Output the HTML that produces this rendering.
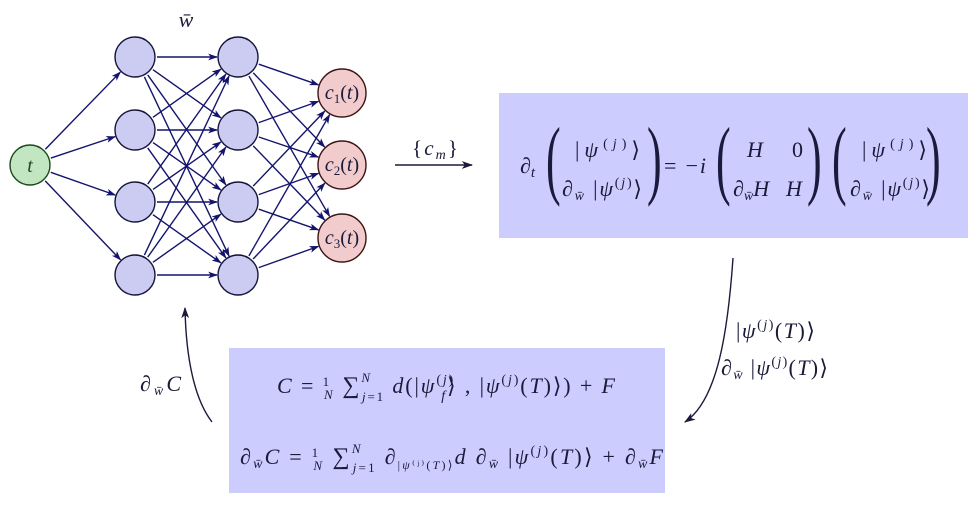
<!DOCTYPE html>
<html><head><meta charset="utf-8">
<style>
html,body{margin:0;padding:0;background:#fff;}
svg{display:block;}
text{font-family:"Liberation Serif","DejaVu Serif",serif;fill:#1a1a3a;}
.i{font-style:italic;}
</style></head>
<body>
<svg id="s" width="978" height="506" viewBox="0 0 978 506" xmlns="http://www.w3.org/2000/svg">
<defs>
<marker id="a" viewBox="0 0 10 10" refX="9" refY="5" markerWidth="7" markerHeight="7" orient="auto-start-reverse">
<path d="M0,1.5 L10,5 L0,8.5 L2.5,5 Z" fill="#14146e"/>
</marker>
<marker id="b" viewBox="0 0 10 10" refX="9" refY="5" markerWidth="8" markerHeight="8" orient="auto">
<path d="M0,1.5 L10,5 L0,8.5 L2.5,5 Z" fill="#1a1a3a"/>
</marker>
</defs>
<g id="edges" stroke="#14146e" stroke-width="1.4" fill="none"></g>
<g id="nodes"></g>
<text x="186" y="27" class="i" font-size="22" text-anchor="middle">w̄</text>

<!-- {c_m} arrow -->
<line x1="395" y1="165" x2="472" y2="165" stroke="#1a1a3a" stroke-width="1.4" marker-end="url(#b)"/>
<text x="412" y="155" font-size="21" textLength="46" lengthAdjust="spacing">{<tspan class="i">c</tspan><tspan class="i" font-size="14" dy="4">m</tspan><tspan dy="-4">}</tspan></text>

<!-- top box -->
<rect x="499" y="93" width="469" height="145" fill="#ccccff"/>
<g font-size="22">
<text x="520" y="173" class="i">∂<tspan font-size="15" dy="4">t</tspan></text>
<text transform="translate(546,188) scale(0.5,1)" font-size="88">(</text>
<text x="575" y="157" textLength="65" lengthAdjust="spacing">|<tspan class="i">ψ</tspan><tspan font-size="14" dy="-9">(</tspan><tspan font-size="14" class="i">j</tspan><tspan font-size="14">)</tspan><tspan dy="9">⟩</tspan></text>
<text x="562" y="196" textLength="80" lengthAdjust="spacing"><tspan class="i">∂</tspan><tspan font-size="14" dy="4" class="i">w̄</tspan><tspan dy="-4"> |</tspan><tspan class="i">ψ</tspan><tspan font-size="14" dy="-9">(</tspan><tspan font-size="14" class="i">j</tspan><tspan font-size="14">)</tspan><tspan dy="9">⟩</tspan></text>
<text transform="translate(647,188) scale(0.5,1)" font-size="88">)</text>
<text x="664" y="173" textLength="42" lengthAdjust="spacing">= −<tspan class="i">i</tspan></text>
<text transform="translate(716,188) scale(0.5,1)" font-size="88">(</text>
<text x="747" y="157" class="i">H</text><text x="792" y="157">0</text>
<text x="733" y="196" class="i">∂<tspan font-size="14" dy="4">w̄</tspan><tspan dy="-4">H</tspan></text><text x="786" y="196" class="i">H</text>
<text transform="translate(807,188) scale(0.5,1)" font-size="88">)</text>
<text transform="translate(832,188) scale(0.5,1)" font-size="88">(</text>
<text x="862" y="157" textLength="65" lengthAdjust="spacing">|<tspan class="i">ψ</tspan><tspan font-size="14" dy="-9">(</tspan><tspan font-size="14" class="i">j</tspan><tspan font-size="14">)</tspan><tspan dy="9">⟩</tspan></text>
<text x="850" y="196" textLength="80" lengthAdjust="spacing"><tspan class="i">∂</tspan><tspan font-size="14" dy="4" class="i">w̄</tspan><tspan dy="-4"> |</tspan><tspan class="i">ψ</tspan><tspan font-size="14" dy="-9">(</tspan><tspan font-size="14" class="i">j</tspan><tspan font-size="14">)</tspan><tspan dy="9">⟩</tspan></text>
<text transform="translate(926,188) scale(0.5,1)" font-size="88">)</text>
</g>

<!-- right curve -->
<path d="M733,258 C728,330 718,400 685,422" stroke="#1a1a3a" stroke-width="1.4" fill="none" marker-end="url(#b)"/>
<g font-size="22">
<text x="736" y="338" textLength="79" lengthAdjust="spacing">|<tspan class="i">ψ</tspan><tspan font-size="14" dy="-9">(</tspan><tspan font-size="14" class="i">j</tspan><tspan font-size="14">)</tspan><tspan dy="9">(</tspan><tspan class="i">T</tspan>)⟩</text>
<text x="721" y="375" textLength="107" lengthAdjust="spacing"><tspan class="i">∂</tspan><tspan font-size="14" dy="4" class="i">w̄</tspan><tspan dy="-4"> |</tspan><tspan class="i">ψ</tspan><tspan font-size="14" dy="-9">(</tspan><tspan font-size="14" class="i">j</tspan><tspan font-size="14">)</tspan><tspan dy="9">(</tspan><tspan class="i">T</tspan>)⟩</text>
</g>

<!-- left curve -->
<path d="M212,422 C195,400 186,360 185,308" stroke="#1a1a3a" stroke-width="1.4" fill="none" marker-end="url(#b)"/>
<text x="140" y="391" font-size="22" textLength="41" lengthAdjust="spacing"><tspan class="i">∂</tspan><tspan font-size="14" dy="4" class="i">w̄</tspan><tspan dy="-4" class="i">C</tspan></text>

<!-- bottom box -->
<rect x="229" y="348" width="436" height="145" fill="#ccccff"/>
<g font-size="22">
<text x="277" y="393" textLength="338" lengthAdjust="spacing"><tspan class="i">C</tspan> = <tspan font-size="13" dy="-7">1</tspan><tspan font-size="13" dx="-7" dy="13" class="i">N</tspan><tspan dy="-6" font-size="24"> ∑</tspan><tspan font-size="13" dy="-11" class="i">N</tspan><tspan font-size="13" dx="-10" dy="19"><tspan class="i">j</tspan>=1</tspan><tspan dy="-8" class="i"> d</tspan>(|<tspan class="i">ψ</tspan><tspan font-size="14" dy="-9">(</tspan><tspan font-size="14" class="i">j</tspan><tspan font-size="14">)</tspan><tspan font-size="14" class="i" dx="-14" dy="16">f</tspan><tspan dy="-7">⟩ , |</tspan><tspan class="i">ψ</tspan><tspan font-size="14" dy="-9">(</tspan><tspan font-size="14" class="i">j</tspan><tspan font-size="14">)</tspan><tspan dy="9">(</tspan><tspan class="i">T</tspan>)⟩) + <tspan class="i">F</tspan></text>
<text x="240" y="464" textLength="423" lengthAdjust="spacing"><tspan class="i">∂</tspan><tspan font-size="14" dy="4" class="i">w̄</tspan><tspan dy="-4" class="i">C</tspan> = <tspan font-size="13" dy="-7">1</tspan><tspan font-size="13" dx="-7" dy="13" class="i">N</tspan><tspan dy="-6" font-size="24"> ∑</tspan><tspan font-size="13" dy="-11" class="i">N</tspan><tspan font-size="13" dx="-10" dy="19"><tspan class="i">j</tspan>=1</tspan><tspan dy="-8" class="i"> ∂</tspan><tspan font-size="12" dy="5">|<tspan class="i">ψ</tspan>⁽ʲ⁾(<tspan class="i">T</tspan>)⟩</tspan><tspan dy="-5" class="i">d ∂</tspan><tspan font-size="14" dy="4" class="i">w̄</tspan><tspan dy="-4"> |</tspan><tspan class="i">ψ</tspan><tspan font-size="14" dy="-9">(</tspan><tspan font-size="14" class="i">j</tspan><tspan font-size="14">)</tspan><tspan dy="9">(</tspan><tspan class="i">T</tspan>)⟩ + <tspan class="i">∂</tspan><tspan font-size="14" dy="4" class="i">w̄</tspan><tspan dy="-4" class="i">F</tspan></text>
</g>
</svg>
<script>
(function(){
var NS="http://www.w3.org/2000/svg";
var E=document.getElementById("edges"),N=document.getElementById("nodes");
var t={x:30,y:165,r:20};
var ys=[57,130,202,275];
var L1=ys.map(function(y){return {x:135,y:y,r:20};});
var L2=ys.map(function(y){return {x:238,y:y,r:20};});
var O=[93,165,238].map(function(y){return {x:342,y:y,r:24};});
function edge(a,b){var dx=b.x-a.x,dy=b.y-a.y,d=Math.sqrt(dx*dx+dy*dy);
var l=document.createElementNS(NS,"line");
l.setAttribute("x1",a.x+dx/d*(a.r+2));l.setAttribute("y1",a.y+dy/d*(a.r+2));
l.setAttribute("x2",b.x-dx/d*(b.r+1));l.setAttribute("y2",b.y-dy/d*(b.r+1));
l.setAttribute("marker-end","url(#a)");E.appendChild(l);}
L1.forEach(function(n){edge(t,n);});
L1.forEach(function(a){L2.forEach(function(b){edge(a,b);});});
L2.forEach(function(a){O.forEach(function(b){edge(a,b);});});
function circ(n,fill,stroke){var c=document.createElementNS(NS,"circle");
c.setAttribute("cx",n.x);c.setAttribute("cy",n.y);c.setAttribute("r",n.r);
c.setAttribute("fill",fill);c.setAttribute("stroke",stroke);c.setAttribute("stroke-width","1.4");N.appendChild(c);}
circ(t,"#c2e6c2","#1c4a1c");
L1.concat(L2).forEach(function(n){circ(n,"#ccccf2","#14143c");});
O.forEach(function(n){circ(n,"#f2cccc","#3c1414");});
function txt(x,y,h){var g=document.createElementNS(NS,"text");g.setAttribute("x",x);g.setAttribute("y",y);
g.setAttribute("text-anchor","middle");g.setAttribute("font-size","20");g.innerHTML=h;N.appendChild(g);}
txt(30,172,'<tspan class="i" fill="#1c4a1c">t</tspan>');
O.forEach(function(n,i){txt(n.x,n.y+6,'<tspan class="i">c</tspan><tspan font-size="13" dy="4">'+(i+1)+'</tspan><tspan dy="-4">(</tspan><tspan class="i">t</tspan>)');});
})();
</script>
</body></html>
